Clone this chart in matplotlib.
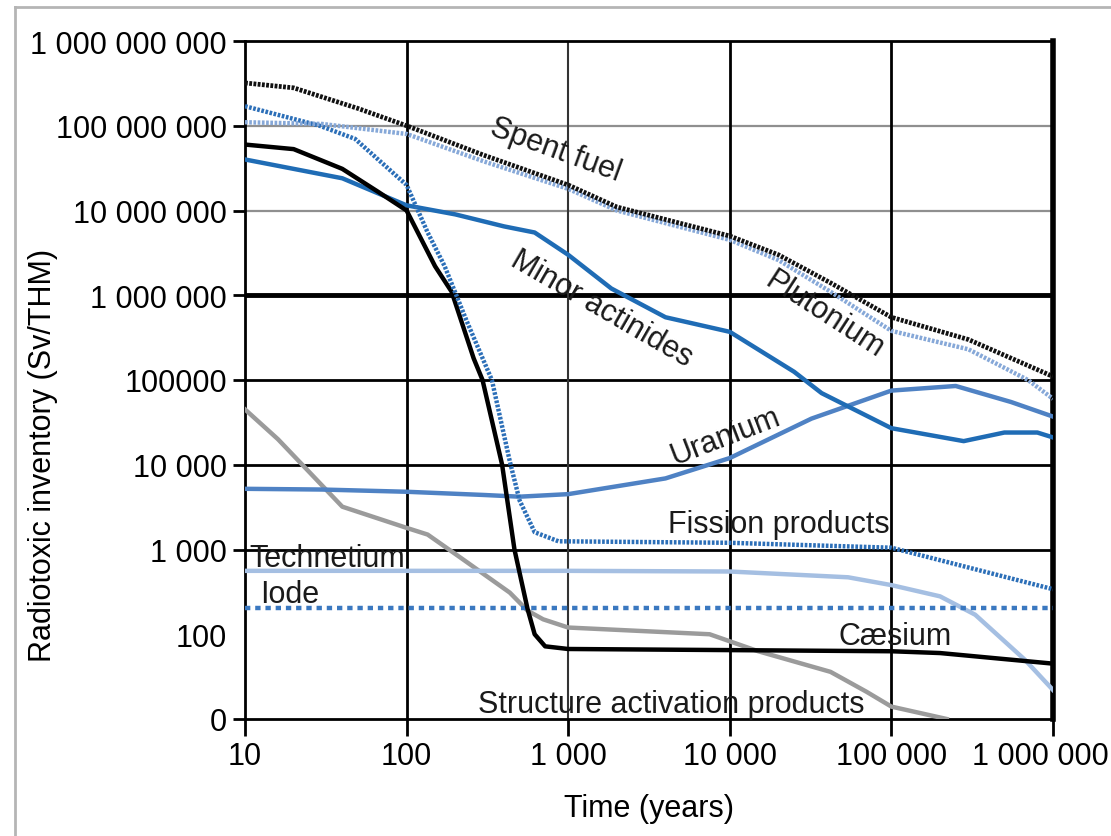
import matplotlib
matplotlib.use("Agg")
import matplotlib.pyplot as plt
import matplotlib.transforms as mtransforms
from matplotlib.lines import Line2D

plt.rcParams['font.family'] = ['Liberation Sans', 'DejaVu Sans']
FS = 22

# values (time in years, Sv/THM)
spent_t = [10, 20, 50, 100, 300, 1000, 2000, 10000, 20000, 42000, 100000, 300000, 1000000]
spent_v = [3.2e8, 2.8e8, 1.6e8, 1.0e8, 4.5e7, 2.0e7, 1.1e7, 5.0e6, 3.0e6, 1.4e6, 5.5e5, 3.0e5, 1.1e5]

pluto_t = [10, 30, 100, 300, 1000, 2000, 10000, 20000, 42000, 100000, 300000, 700000, 1000000]
pluto_v = [1.1e8, 1.05e8, 8.0e7, 3.8e7, 1.8e7, 1.0e7, 4.5e6, 2.6e6, 1.1e6, 3.8e5, 2.3e5, 1.0e5, 6.0e4]

fission_t = [10, 29, 48, 100, 135, 172, 235, 337, 435, 500, 620, 870, 10000, 100000, 1000000]
fission_v = [1.7e8, 1.0e8, 7.0e7, 2.0e7, 5.5e6, 2.2e6, 5.0e5, 1.0e5, 1.1e4, 3.8e3, 1.6e3, 1.25e3, 1.2e3, 1.05e3, 340]

caesium_t = [10, 20, 40, 67, 100, 150, 190, 260, 295, 390, 465, 560, 620, 720, 1000, 10000, 100000, 200000, 1000000]
caesium_v = [6.0e7, 5.3e7, 3.1e7, 1.65e7, 1.0e7, 2.2e6, 1.1e6, 1.8e5, 1.0e5, 1.0e4, 1.0e3, 200, 100, 72, 67, 65, 63, 60, 45]

minor_t = [10, 40, 100, 200, 400, 620, 1000, 1850, 4000, 10000, 25000, 37000, 100000, 280000, 500000, 800000, 1000000]
minor_v = [4.0e7, 2.4e7, 1.15e7, 9.0e6, 6.5e6, 5.5e6, 3.0e6, 1.2e6, 5.5e5, 3.7e5, 1.25e5, 7.0e4, 2.7e4, 1.9e4, 2.4e4, 2.4e4, 2.1e4]

uranium_t = [10, 30, 100, 300, 500, 1000, 4000, 10000, 32000, 100000, 250000, 550000, 1000000]
uranium_v = [5.2e3, 5.1e3, 4.8e3, 4.4e3, 4.2e3, 4.5e3, 6.9e3, 1.2e4, 3.5e4, 7.5e4, 8.5e4, 5.5e4, 3.7e4]

techne_t = [10, 1000, 10000, 54000, 100000, 200000, 330000, 670000, 1000000]
techne_v = [560, 560, 550, 470, 380, 280, 170, 50, 22]

iode_t = [10, 1000000]
iode_v = [205, 205]

struct_t = [10, 16, 40, 100, 135, 220, 435, 560, 700, 1000, 7500, 15000, 42000, 70000, 100000, 220000]
struct_v = [4.5e4, 2.0e4, 3.2e3, 1.8e3, 1.5e3, 780, 310, 190, 150, 120, 100, 63, 36, 21, 14, 10]

x_ticks = [10, 100, 1000, 10000, 100000, 1000000]
x_labels = ['10', '100', '1 000', '10 000', '100 000', '1 000 000']
y_ticks = [10, 100, 1e3, 1e4, 1e5, 1e6, 1e7, 1e8, 1e9]
y_labels = ['0', '100', '1 000', '10 000', '100000', '1 000 000', '10 000 000',
            '100 000 000', '1 000 000 000']

fig = plt.figure(figsize=(11.11, 8.37), dpi=100)
ax = fig.add_axes([245 / 1111, 1 - 720 / 837, (1053 - 245) / 1111, (720 - 42) / 837])
ax.set_xscale('log')
ax.set_yscale('log')
ax.set_xlim(10, 1e6)
ax.set_ylim(10, 1e9)
ax.minorticks_off()

# grid, drawn by hand since the weights differ
for yv, c, lw in [(1e8, '#8f8f8f', 1.6), (1e7, '#8f8f8f', 1.6), (1e6, 'black', 3.5),
                  (1e5, 'black', 2), (1e4, 'black', 2), (1e3, 'black', 2)]:
    ax.axhline(yv, color=c, lw=lw, zorder=1)
for xv, c, lw in [(100, 'black', 2), (1000, '#333333', 1.5), (10000, 'black', 2), (100000, 'black', 2)]:
    ax.axvline(xv, color=c, lw=lw, zorder=1)

ax.plot(struct_t, struct_v, color='#9b9b9b', lw=3.2, zorder=3)
ax.plot(techne_t, techne_v, color='#a5bfe2', lw=3.2, zorder=3)
ax.plot(iode_t, iode_v, color='#3a78c0', lw=3.2, ls=(0, (1.2, 1.1)), zorder=3)
ax.plot(uranium_t, uranium_v, color='#4f82c4', lw=3.2, zorder=3)
ax.plot(minor_t, minor_v, color='#1f6cb5', lw=3.2, zorder=3)
ax.plot(caesium_t, caesium_v, color='black', lw=3.2, zorder=4)
ax.plot(fission_t, fission_v, color='#2c6fb8', lw=3.2, ls=(0, (0.6, 0.35)), zorder=4)
ax.plot(pluto_t, pluto_v, color='#86a8d8', lw=3.2, ls=(0, (0.6, 0.35)), zorder=4)
ax.plot(spent_t, spent_v, color='#111111', lw=3.4, ls=(0, (0.6, 0.3)), zorder=5)

ax.set_xticks(x_ticks)
ax.set_xticklabels(x_labels, fontsize=FS)
ax.set_yticks(y_ticks)
ax.set_yticklabels(y_labels, fontsize=FS)
ax.tick_params(axis='y', direction='out', length=9, width=2, pad=4)
ax.tick_params(axis='x', direction='out', length=12, width=2, pad=4)
ax.yaxis.get_major_ticks()[1].tick1line.set_visible(False)
last = ax.get_xticklabels()[-1]
last.set_transform(last.get_transform() + mtransforms.ScaledTranslation(-0.13, 0, fig.dpi_scale_trans))

for side in ['left', 'top', 'bottom']:
    ax.spines[side].set_linewidth(2)
ax.spines['right'].set_linewidth(4)

ax.set_xlabel('Time (years)', fontsize=FS, labelpad=16)
ax.set_ylabel('Radiotoxic inventory (Sv/THM)', fontsize=FS)
ax.yaxis.set_label_coords(-0.231, 0.39)

txt = dict(fontsize=FS, color='#1a1a1a', zorder=6)
ax.text(838, 5.3e7, 'Spent fuel', rotation=-20, ha='center', va='center', rotation_mode='anchor', **txt)
ax.text(1610, 7.1e5, 'Minor actinides', rotation=-30, ha='center', va='center', rotation_mode='anchor', **txt)
ax.text(3.85e4, 6.0e5, 'Plutonium', rotation=-33, ha='center', va='center', rotation_mode='anchor', **txt)
ax.text(9420, 2.2e4, 'Uranium', rotation=21, ha='center', va='center', rotation_mode='anchor', **txt)
ax.text(2.0e4, 1607, 'Fission products', ha='center', va='baseline', **txt)
ax.text(10.6, 638, 'Technetium', ha='left', va='baseline', **txt)
ax.text(12.4, 240, 'Iode', ha='left', va='baseline', **txt)
ax.text(1.05e5, 77, 'Cæsium', ha='center', va='baseline', **txt)
ax.text(4370, 12.1, 'Structure activation products', ha='center', va='baseline', **txt)

# light frame around the figure (open on right and bottom)
fig.add_artist(Line2D([15 / 1111, 15 / 1111], [0, 1 - 8 / 837], color='#b5b5b5', lw=2))
fig.add_artist(Line2D([15 / 1111, 1], [1 - 8 / 837, 1 - 8 / 837], color='#b5b5b5', lw=2))

fig.savefig('out.png', dpi=100)
